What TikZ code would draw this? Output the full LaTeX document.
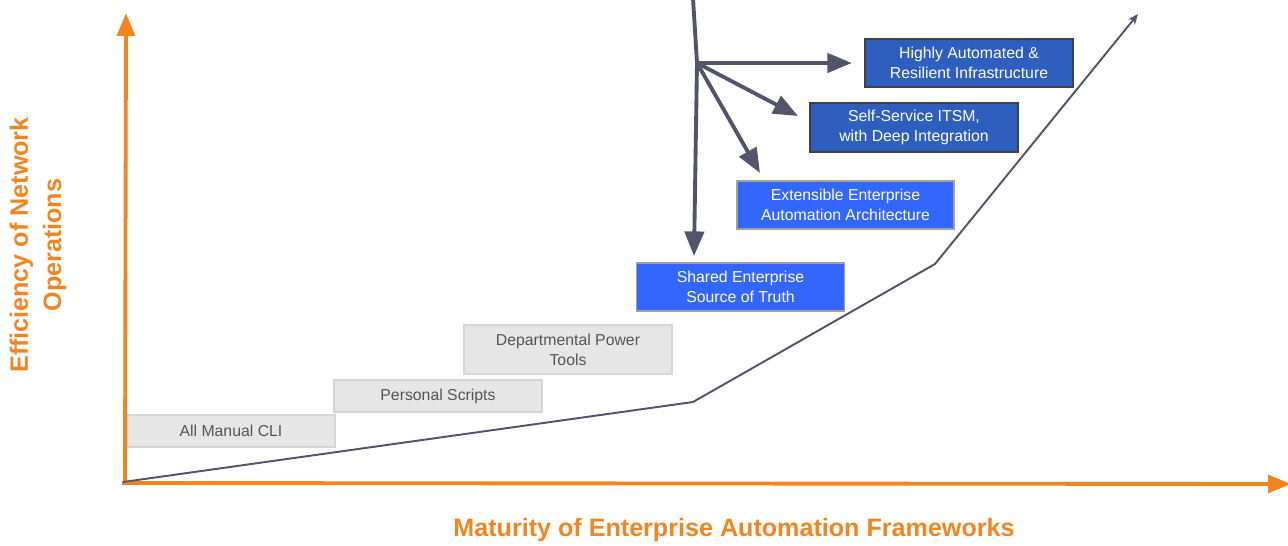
\documentclass[tikz,border=0pt]{standalone}
\usepackage{fontspec}
\setsansfont{Liberation Sans}
\usetikzlibrary{arrows.meta,positioning}
\definecolor{axisorange}{RGB}{243,133,33}
\definecolor{pathgrey}{RGB}{82,85,106}
\definecolor{stepgrey}{RGB}{230,230,230}
\definecolor{stepline}{RGB}{214,214,214}
\definecolor{textgrey}{RGB}{85,85,85}
\definecolor{brightblue}{RGB}{51,102,255}
\definecolor{deepblue}{RGB}{46,94,190}
\definecolor{boxline}{RGB}{160,160,160}
\definecolor{darkline}{RGB}{64,64,64}

\begin{document}
\begin{tikzpicture}
	[font=\sffamily, x=0.02cm, y=-0.02cm, inner sep=0pt,
	stage/.style	= {rectangle, draw=stepline, line width=1pt, fill=stepgrey, text=textgrey, minimum width=4.16cm, minimum height=0.64cm, align=center, font=\sffamily\fontsize{9}{11.3}\selectfont},
	goal/.style	= {rectangle, draw=boxline, line width=1pt, fill=brightblue, text=white, minimum width=4.16cm, minimum height=0.96cm, align=center, font=\sffamily\fontsize{9}{11.3}\selectfont},
	target/.style	= {goal, draw=darkline, fill=deepblue},
	axis/.style	= {-{Triangle[length=13pt, width=10pt]}, draw=axisorange, line width=2.2pt},
	paths/.style	= {-{Triangle[length=14pt, width=11pt]}, draw=pathgrey, line width=2.2pt},
	trend/.style	= {-{Stealth[length=6pt, width=5pt]}, draw=pathgrey, line width=1.1pt},
	axislabel/.style	= {text=axisorange, align=center, font=\sffamily\bfseries\fontsize{14.3}{18.8}\selectfont}]
	
	\useasboundingbox (0,0) rectangle (1288,545);
	
	\node at (231,431)	[stage]	(manual)	{All Manual CLI};
	\node at (438,396)	[stage]	(scripts)	{Personal Scripts};
	\node at (568,349.5)	[stage, minimum height=0.98cm]	(tools)	{Departmental Power\\Tools};
	\node at (740.5,287)	[goal]	(truth)	{Shared Enterprise\\Source of Truth};
	\node at (845.5,205)	[goal, minimum width=4.34cm]	(arch)	{Extensible Enterprise\\Automation Architecture};
	\node at (914,127.5)	[target, minimum height=0.98cm]	(itsm)	{Self-Service ITSM,\\with Deep Integration};
	\node at (969,63)	[target]	(infra)	{Highly Automated \&\\Resilient Infrastructure};
	
	\node at (38,245)	[axislabel, rotate=90]	(ylab)	{Efficiency of Network\\Operations};
	\node at (734,530)	[axislabel]	(xlab)	{Maturity of Enterprise Automation Frameworks};
	
	% axes
	\coordinate (ybase) at (125,484);
	\coordinate (ytop) at (126,13);
	\coordinate (xbase) at (122,483);
	\coordinate (xend) at (1291,484);
	\draw [axis] (ybase) -- (ytop);
	\draw [axis] (xbase) -- (xend);
	
	% growth curve
	\coordinate (start) at (123,482);
	\coordinate (knee) at (693,402);
	\coordinate (bend) at (935,264);
	\coordinate (tip) at (1138,14);
	\draw [trend] (start) -- (knee) -- (bend) -- (tip);
	
	% fan of arrows
	\coordinate (top) at (693,-2);
	\coordinate (fork) at (697,63);
	\coordinate (down) at (694,256);
	\coordinate (toitsm) at (798,116);
	\coordinate (toarch) at (760,173);
	\draw [paths, -] (top) -- (fork);
	\draw [paths] (fork) -- (down);
	\draw [paths, shorten >=7] (fork) -- (infra.west);
	\draw [paths] (fork) -- (toitsm);
	\draw [paths] (fork) -- (toarch);
	
\end{tikzpicture}
\end{document}
